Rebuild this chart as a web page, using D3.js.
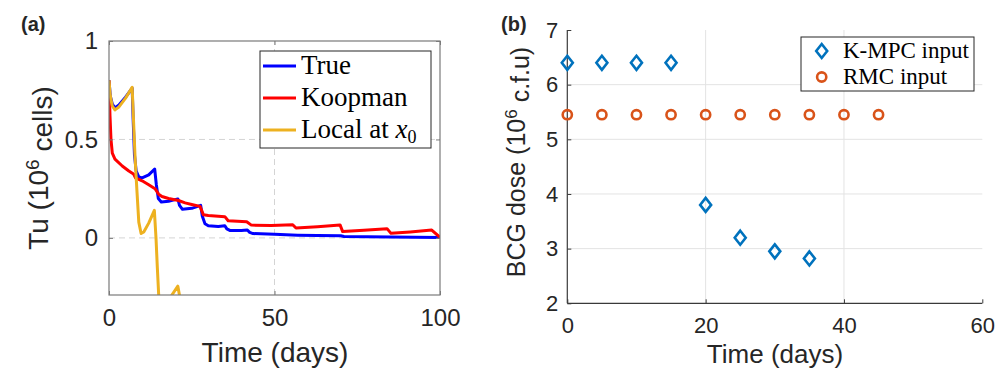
<!DOCTYPE html>
<html><head><meta charset="utf-8">
<script src="https://cdn.jsdelivr.net/npm/d3@7"></script>
<style>
html,body{margin:0;padding:0;background:#fff;}
svg{display:block;}
text{font-family:"Liberation Sans",Arial,Helvetica,sans-serif;fill:#262626;}
.serif{font-family:"Liberation Serif","Times New Roman",serif;fill:#000;}
</style></head>
<body>
<svg id="chart" width="1000" height="373"></svg>
<script>
// ---------- Panel (a) data ----------
const trueT = [0,0.4,1,1.8,3,5,7,7.3,7.7,8.2,9,10,12,13.8,14.3,14.9,15.8,18,20.8,21.3,22.2,25,27.7,28.2,29,30,33,35,35.6,36.5,40,41.8,42.5,43.5,50,57,63,70,71,85,100];
const trueV = [0.80,0.72,0.68,0.66,0.675,0.715,0.76,0.60,0.42,0.34,0.31,0.305,0.32,0.35,0.27,0.20,0.182,0.186,0.198,0.165,0.145,0.15,0.165,0.11,0.072,0.062,0.058,0.062,0.046,0.038,0.037,0.04,0.028,0.022,0.018,0.014,0.012,0.011,0.007,0.005,0.002];
const koopT = [0,0.3,0.6,1.0,1.8,4,6,7.4,8,10,12,13.9,15,16,18,21,23,25,27.5,28.5,30,35,36,41.6,43,49,55.5,56.5,63,69.8,70.6,77,84,85.2,91,97.5,100];
const koopV = [0.80,0.62,0.50,0.43,0.40,0.365,0.34,0.325,0.305,0.29,0.27,0.25,0.222,0.21,0.20,0.19,0.178,0.17,0.16,0.118,0.114,0.108,0.087,0.082,0.065,0.063,0.067,0.05,0.057,0.066,0.032,0.039,0.047,0.023,0.03,0.04,0.003];
const localT = [0,0.4,1,1.8,3,5,7,7.4,7.9,8.4,9.0,9.7,10.5,12,13.7,14.2,14.6,15.1,16.5,19,20.8,21.6,23];
const localV = [0.80,0.72,0.67,0.65,0.665,0.71,0.765,0.60,0.40,0.25,0.08,0.022,0.03,0.075,0.14,0.0,-0.15,-0.32,-0.40,-0.29,-0.245,-0.32,-0.6];
const aXTicks = [0,50,100];
const aYTicks = [0,0.5,1];
const aYTickLabels = ["0","0.5","1"];

// ---------- Panel (b) data ----------
const kmpcDays = [0,5,10,15,20,25,30,35];
const kmpcDose = [6.4,6.4,6.4,6.4,3.8,3.2,2.95,2.82];
const rmcDays = [0,5,10,15,20,25,30,35,40,45];
const rmcDose = [5.45,5.45,5.45,5.45,5.45,5.45,5.45,5.45,5.45,5.45];
const bXTicks = [0,20,40,60];
const bYTicks = [2,3,4,5,6,7];

const svg = d3.select("#chart");

// ===== Panel (a) =====
const ax = d3.scaleLinear().domain([0,100]).range([109,440]);
const ay = d3.scaleLinear().domain([-0.29,1]).range([295,41]);
const ga = svg.append("g");

ga.append("rect").attr("x",109).attr("y",41).attr("width",331).attr("height",254).attr("fill","#fff");
// dashed grid
ga.selectAll(".gy").data(aYTicks.filter(d=>d<1)).enter().append("line")
  .attr("x1",ax(0)).attr("x2",ax(100)).attr("y1",d=>ay(d)).attr("y2",d=>ay(d))
  .attr("stroke","#d4d4d4").attr("stroke-width",1).attr("stroke-dasharray","6,4");
ga.selectAll(".gx").data(aXTicks.filter(d=>d>0&&d<100)).enter().append("line")
  .attr("y1",ay(-0.29)).attr("y2",ay(1)).attr("x1",d=>ax(d)).attr("x2",d=>ax(d))
  .attr("stroke","#d4d4d4").attr("stroke-width",1).attr("stroke-dasharray","6,4");

svg.append("defs").append("clipPath").attr("id","clipA").append("rect")
  .attr("x",109).attr("y",41).attr("width",331).attr("height",254);

const lineA = d3.line().x(d=>ax(d[0])).y(d=>ay(d[1]));
const seriesA = [
  {t:trueT, v:trueV, c:"#0000ff", name:"True"},
  {t:koopT, v:koopV, c:"#ff0000", name:"Koopman"},
  {t:localT, v:localV, c:"#edb120", name:"Local"}
];
const pl = ga.append("g").attr("clip-path","url(#clipA)");
seriesA.forEach(s=>{
  pl.append("path").datum(s.t.map((t,i)=>[t,s.v[i]]))
    .attr("d",lineA).attr("fill","none").attr("stroke",s.c)
    .attr("stroke-width",3).attr("stroke-linejoin","round");
});

// axes box and ticks
ga.append("rect").attr("x",109).attr("y",41).attr("width",331).attr("height",254)
  .attr("fill","none").attr("stroke","#7a7a7a").attr("stroke-width",1.2);
const axB = d3.axisBottom(ax).tickValues(aXTicks).tickSize(-4).tickPadding(14).tickFormat(d3.format("d"));
const gaxb = ga.append("g").attr("transform","translate(0,295)").call(axB);
const axT = d3.axisTop(ax).tickValues(aXTicks).tickSize(-4).tickFormat("");
const gaxt = ga.append("g").attr("transform","translate(0,41)").call(axT);
const ayL = d3.axisLeft(ay).tickValues(aYTicks).tickSize(-4).tickPadding(11).tickFormat((d,i)=>aYTickLabels[i]);
const gayl = ga.append("g").attr("transform","translate(109,0)").call(ayL);
const ayR = d3.axisRight(ay).tickValues(aYTicks).tickSize(-4).tickFormat("");
const gayr = ga.append("g").attr("transform","translate(440,0)").call(ayR);
[gaxb,gaxt,gayl,gayr].forEach(g=>{
  g.select(".domain").remove();
  g.selectAll(".tick line").attr("stroke","#7a7a7a");
  g.selectAll(".tick text").style("font-size","24px").attr("fill","#262626")
   .style("font-family","'Liberation Sans',Arial,sans-serif");
});
gaxb.selectAll(".tick text").attr("dy","0.71em");

// axis labels
ga.append("text").attr("x",275).attr("y",362).attr("text-anchor","middle")
  .style("font-size","28px").text("Time (days)");
const yla = ga.append("text").attr("transform","translate(48,168) rotate(-90)")
  .attr("text-anchor","middle").style("font-size","28px");
yla.append("tspan").text("Tu (10");
yla.append("tspan").attr("dy","-0.45em").style("font-size","19px").text("6");
yla.append("tspan").attr("dy","0.45em").text(" cells)");

ga.append("text").attr("x",21).attr("y",31).style("font-size","20px").style("font-weight","bold")
  .attr("fill","#000").text("(a)");

// legend (a)
const lgA = ga.append("g");
lgA.append("rect").attr("x",260).attr("y",51).attr("width",171).attr("height",97)
  .attr("fill","#fff").attr("stroke","#262626").attr("stroke-width",1);
const legRowsA = [66,98,130];
seriesA.forEach((s,i)=>{
  lgA.append("line").attr("x1",263).attr("x2",296).attr("y1",legRowsA[i]).attr("y2",legRowsA[i])
    .attr("stroke",s.c).attr("stroke-width",3);
});
lgA.append("text").attr("class","serif").attr("x",301).attr("y",74).style("font-size","27px").text("True");
lgA.append("text").attr("class","serif").attr("x",301).attr("y",106).style("font-size","27px").text("Koopman");
const lt = lgA.append("text").attr("class","serif").attr("x",301).attr("y",138).style("font-size","27px");
lt.append("tspan").text("Local at ");
lt.append("tspan").style("font-style","italic").text("x");
lt.append("tspan").attr("dy","0.25em").style("font-size","18px").text("0");

// ===== Panel (b) =====
const bx = d3.scaleLinear().domain([0,60]).range([567.3,982.3]);
const by = d3.scaleLinear().domain([2,7]).range([303.3,30]);
const gb = svg.append("g");
gb.selectAll(".gx").data(bXTicks.filter(d=>d>0&&d<60)).enter().append("line")
  .attr("x1",d=>bx(d)).attr("x2",d=>bx(d)).attr("y1",by(2)).attr("y2",by(7))
  .attr("stroke","#e3e3e3").attr("stroke-width",1);
gb.selectAll(".gy").data(bYTicks.filter(d=>d>2&&d<7)).enter().append("line")
  .attr("x1",bx(0)).attr("x2",bx(60)).attr("y1",d=>by(d)).attr("y2",d=>by(d))
  .attr("stroke","#e3e3e3").attr("stroke-width",1);

const bxA = d3.axisBottom(bx).tickValues(bXTicks).tickSize(-4).tickPadding(14).tickFormat(d3.format("d"));
const gbx = gb.append("g").attr("transform","translate(0,303.3)").call(bxA);
const byA = d3.axisLeft(by).tickValues(bYTicks).tickSize(-4).tickPadding(9).tickFormat(d3.format("d"));
const gby = gb.append("g").attr("transform","translate(567.3,0)").call(byA);
[gbx,gby].forEach(g=>{
  g.select(".domain").attr("stroke","#3a3a3a").attr("stroke-width",1.2);
  g.selectAll(".tick line").attr("stroke","#3a3a3a");
  g.selectAll(".tick text").style("font-size","22px").attr("fill","#262626")
   .style("font-family","'Liberation Sans',Arial,sans-serif");
});
gbx.select(".domain").attr("d","M567.3,0H982.3");
gby.select(".domain").attr("d","M0,303.3V30");
gbx.selectAll(".tick text").attr("dy","0.71em");

// markers
const diamond = (cx,cy)=>`M${cx},${cy-7}L${cx+5.5},${cy}L${cx},${cy+7}L${cx-5.5},${cy}Z`;
gb.selectAll(".rmc").data(rmcDays.map((d,i)=>[d,rmcDose[i]])).enter().append("circle")
  .attr("cx",d=>bx(d[0])).attr("cy",d=>by(d[1])).attr("r",4.6)
  .attr("fill","none").attr("stroke","#d95319").attr("stroke-width",2.6);
gb.selectAll(".kmpc").data(kmpcDays.map((d,i)=>[d,kmpcDose[i]])).enter().append("path")
  .attr("d",d=>diamond(bx(d[0]),by(d[1])))
  .attr("fill","none").attr("stroke","#0072bd").attr("stroke-width",2.6);

// labels
gb.append("text").attr("x",775).attr("y",363).attr("text-anchor","middle")
  .style("font-size","26px").text("Time (days)");
const ylb = gb.append("text").attr("transform","translate(525,162) rotate(-90)")
  .attr("text-anchor","middle").style("font-size","25px");
ylb.append("tspan").text("BCG dose (10");
ylb.append("tspan").attr("dy","-0.45em").style("font-size","17px").text("6");
ylb.append("tspan").attr("dy","0.45em").text(" c.f.u)");

gb.append("text").attr("x",501).attr("y",31).style("font-size","20px").style("font-weight","bold")
  .attr("fill","#000").text("(b)");

// legend (b)
const lgB = gb.append("g");
lgB.append("rect").attr("x",801).attr("y",37).attr("width",173).attr("height",54)
  .attr("fill","#fff").attr("stroke","#262626").attr("stroke-width",1);
lgB.append("path").attr("d",diamond(821.7,51)).attr("fill","none").attr("stroke","#0072bd").attr("stroke-width",2.6);
lgB.append("circle").attr("cx",821.7).attr("cy",77).attr("r",4.6).attr("fill","none").attr("stroke","#d95319").attr("stroke-width",2.6);
lgB.append("text").attr("class","serif").attr("x",843).attr("y",58).style("font-size","23px").text("K-MPC input");
lgB.append("text").attr("class","serif").attr("x",843).attr("y",84).style("font-size","23px").text("RMC input");
</script>
</body></html>
